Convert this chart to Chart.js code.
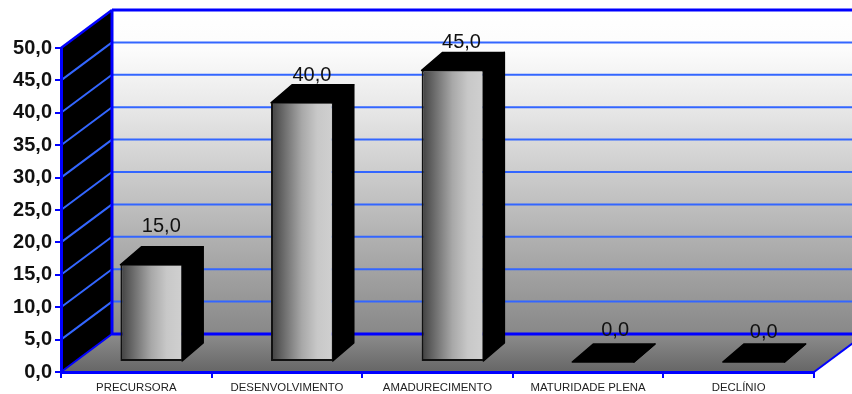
<!DOCTYPE html>
<html>
<head>
<meta charset="utf-8">
<title>Chart</title>
<script src="https://cdn.jsdelivr.net/npm/chart.js@4/dist/chart.umd.min.js"></script>
<style>
  html, body { margin: 0; padding: 0; background: #fff; overflow: hidden; }
  canvas { display: block; }
</style>
</head>
<body>
<canvas id="chart" width="852" height="394"></canvas>
<script>
const categories = ["PRECURSORA", "DESENVOLVIMENTO", "AMADURECIMENTO", "MATURIDADE PLENA", "DECLÍNIO"];
const values = [15, 40, 45, 0, 0];
const valueLabels = ["15,0", "40,0", "45,0", "0,0", "0,0"];
const yTickLabels = ["0,0", "5,0", "10,0", "15,0", "20,0", "25,0", "30,0", "35,0", "40,0", "45,0", "50,0"];

// fake 3d offsets, in px
const wallDepth = { x: 51, y: -38 };
const barShift = { x: 15, y: -10 };
const barDepth = { x: 21, y: -18 };
const barShare = 0.41;
// where the value text sits relative to the category centre / value position
const labelDx = [25, 25, 24, 27, 25];
const labelDy = [-48, -37, -38, -42, -40];

const BLUE = "#0000ff";
const GRID_BLUE = "#3366ff";

function poly(ctx, pts, fill) {
  ctx.beginPath();
  pts.forEach((p, i) => (i ? ctx.lineTo(p[0], p[1]) : ctx.moveTo(p[0], p[1])));
  ctx.closePath();
  ctx.fillStyle = fill;
  ctx.fill();
}

function blackFace(ctx, pts) {
  poly(ctx, pts, "#000");
  ctx.strokeStyle = "#000";
  ctx.lineWidth = 1.5;
  ctx.lineJoin = "round";
  ctx.stroke();
}

function line(ctx, x1, y1, x2, y2, color, width) {
  ctx.beginPath();
  ctx.moveTo(x1, y1);
  ctx.lineTo(x2, y2);
  ctx.strokeStyle = color;
  ctx.lineWidth = width;
  ctx.stroke();
}

const roomPlugin = {
  id: "room",
  beforeDraw(chart) {
    const { ctx, scales: { x, y } } = chart;
    const left = x.left, right = x.right;
    const y0 = y.getPixelForValue(0), yMax = y.getPixelForValue(50);
    const backLeft = left + wallDepth.x, backRight = right + wallDepth.x;
    const backY0 = y0 + wallDepth.y, backYMax = yMax + wallDepth.y;

    ctx.save();
    ctx.fillStyle = "#fff";
    ctx.fillRect(0, 0, chart.width, chart.height);

    const wall = ctx.createLinearGradient(0, backYMax, 0, backY0);
    wall.addColorStop(0, "#ffffff");
    wall.addColorStop(0.12, "#fcfcfc");
    wall.addColorStop(0.3, "#e8e8e8");
    wall.addColorStop(1, "#888888");
    ctx.fillStyle = wall;
    ctx.fillRect(backLeft, backYMax, backRight - backLeft, backY0 - backYMax);

    const floor = ctx.createLinearGradient(0, backY0, 0, y0);
    floor.addColorStop(0, "#8c8c8c");
    floor.addColorStop(1, "#666666");
    poly(ctx, [[left, y0], [backLeft, backY0], [backRight, backY0], [right, y0]], floor);

    poly(ctx, [[left, y0], [left, yMax], [backLeft, backYMax], [backLeft, backY0]], "#000");

    y.ticks.forEach((t) => {
      if (t.value === 0 || t.value === 50) return;
      const py = y.getPixelForValue(t.value);
      line(ctx, left, py, backLeft, py + wallDepth.y, GRID_BLUE, 2);
      line(ctx, backLeft, py + wallDepth.y, backRight, py + wallDepth.y, GRID_BLUE, 2);
    });

    line(ctx, left, yMax, backLeft, backYMax, BLUE, 2.5);
    line(ctx, backLeft, backYMax, backRight, backYMax, BLUE, 3);
    line(ctx, backLeft, backYMax, backLeft, backY0, BLUE, 3);
    line(ctx, backLeft, backY0, backRight, backY0, BLUE, 3);
    line(ctx, left, y0, backLeft, backY0, BLUE, 2);
    line(ctx, right, y0, backRight, backY0, BLUE, 2);
    ctx.restore();
  },
  beforeDatasetDraw(chart) {
    const { ctx } = chart;
    ctx.save();
    chart.getDatasetMeta(0).data.forEach((bar) => {
      const l = bar.x - bar.width / 2 + barShift.x;
      const r = bar.x + bar.width / 2 + barShift.x;
      const top = bar.y + barShift.y;
      const base = bar.base + barShift.y;
      const dx = barDepth.x, dy = barDepth.y;
      // top face and side face are plain black
      blackFace(ctx, [[l, top], [l + dx, top + dy], [r + dx, top + dy], [r, top]]);
      blackFace(ctx, [[r, top], [r + dx, top + dy], [r + dx, base + dy], [r, base]]);
    });
    ctx.restore();
    ctx.save();
    ctx.translate(barShift.x, barShift.y);
  },
  afterDatasetDraw(chart) {
    chart.ctx.restore();
  },
  afterDraw(chart) {
    const { ctx, scales: { x, y } } = chart;
    ctx.save();
    ctx.font = "20px 'Liberation Sans', Arial, sans-serif";
    ctx.fillStyle = "#111";
    ctx.textAlign = "center";
    ctx.textBaseline = "middle";
    values.forEach((v, i) => {
      ctx.fillText(valueLabels[i], x.getPixelForValue(i) + labelDx[i], y.getPixelForValue(v) + labelDy[i]);
    });
    ctx.restore();
  }
};

function barGradient(context) {
  const { chart, dataIndex } = context;
  const x = chart.scales.x;
  if (!x || dataIndex === undefined) return "#888";
  const w = (x.width / categories.length) * barShare;
  const cx = x.getPixelForValue(dataIndex);
  if (!Number.isFinite(cx) || !Number.isFinite(w)) return "#888";
  const g = chart.ctx.createLinearGradient(cx - w / 2, 0, cx + w / 2, 0);
  g.addColorStop(0, "#404040");
  g.addColorStop(0.5, "#a8a8a8");
  g.addColorStop(0.75, "#c8c8c8");
  g.addColorStop(1, "#d0d0d0");
  return g;
}

new Chart(document.getElementById("chart"), {
  type: "bar",
  data: {
    labels: categories,
    datasets: [{
      data: values,
      backgroundColor: barGradient,
      borderColor: "#111",
      borderWidth: (c) => (values[c.dataIndex] === 0 ? 0 : { left: 2, bottom: 2, top: 1, right: 1 }),
      borderSkipped: false,
      barPercentage: barShare,
      categoryPercentage: 1
    }]
  },
  options: {
    responsive: false,
    animation: false,
    layout: { padding: { left: 0, top: 48, right: 38, bottom: 0 } },
    plugins: { legend: { display: false }, tooltip: { enabled: false } },
    scales: {
      x: {
        afterFit: (s) => { s.height = 22; },
        border: { color: BLUE, width: 3 },
        grid: { drawOnChartArea: false, color: BLUE, lineWidth: 2, tickLength: 6, offset: true },
        ticks: {
          autoSkip: false,
          maxRotation: 0,
          padding: 3,
          color: "#222",
          font: { family: "'Liberation Sans', Arial, sans-serif", size: 11.4 }
        }
      },
      y: {
        min: 0,
        max: 50,
        afterFit: (s) => { s.width = 61; },
        border: { color: BLUE, width: 3 },
        grid: { drawOnChartArea: false, color: BLUE, lineWidth: 2, tickLength: 6 },
        ticks: {
          stepSize: 5,
          padding: 3,
          color: "#111",
          font: { family: "'Liberation Sans', Arial, sans-serif", size: 20, weight: "bold" },
          callback: (v, i) => yTickLabels[i]
        }
      }
    }
  },
  plugins: [roomPlugin]
});
</script>
</body>
</html>
